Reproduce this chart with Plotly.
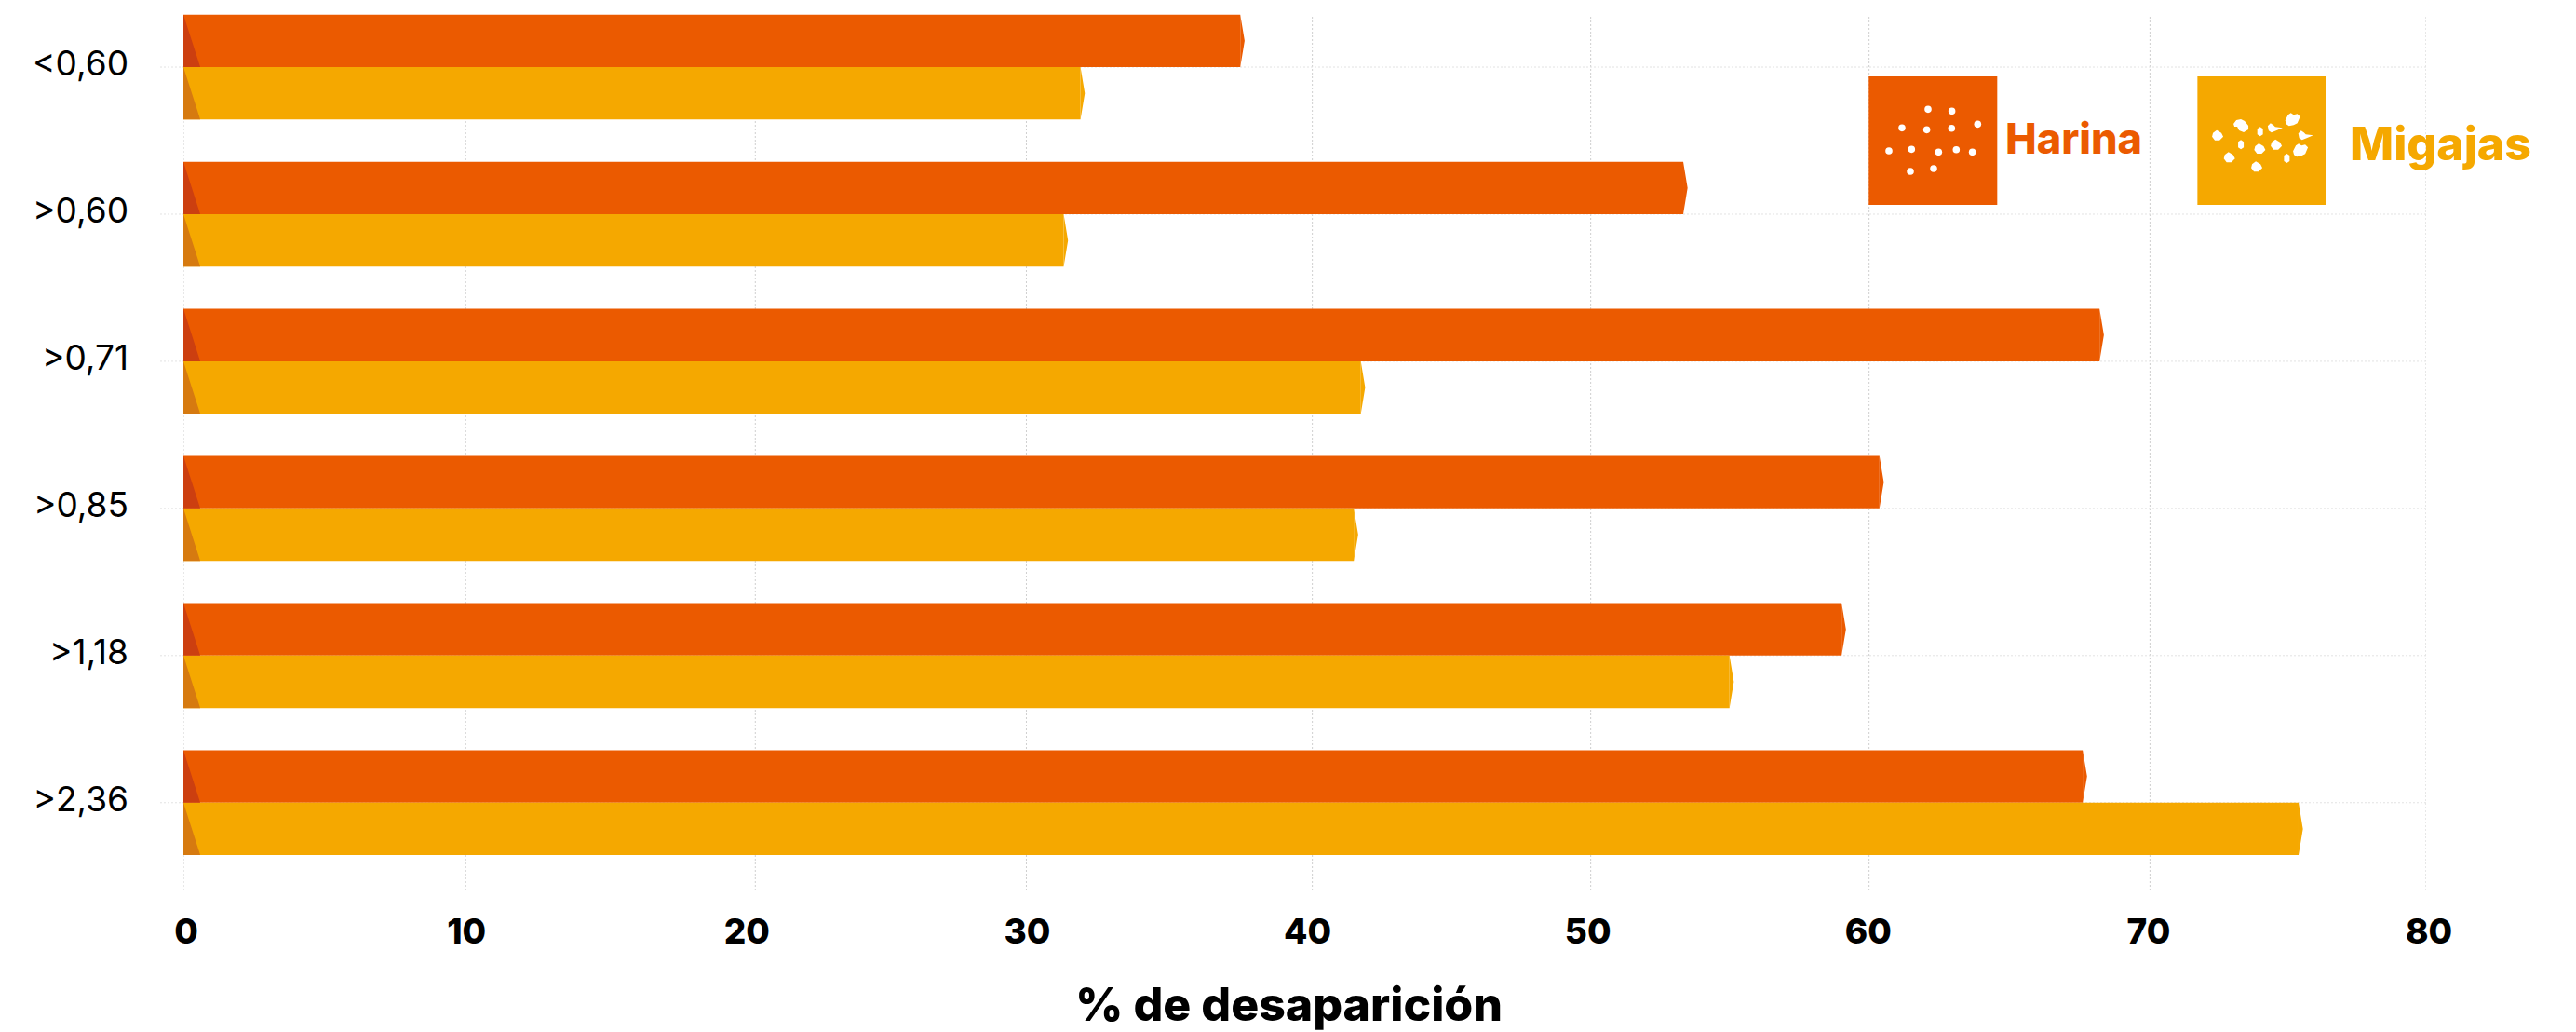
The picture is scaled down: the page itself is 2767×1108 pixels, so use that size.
import plotly.graph_objects as go

# Particle size classes (mm), top to bottom
categories = ["<0,60", ">0,60", ">0,71", ">0,85", ">1,18", ">2,36"]
# Disappearance percentage per size class
harina = [37.7, 53.5, 68.35, 60.5, 59.15, 67.75]
migajas = [32.0, 31.4, 42.0, 41.75, 55.15, 75.45]
x_ticks = [0, 10, 20, 30, 40, 50, 60, 70, 80]
x_grid = [0, 10.07, 20.4, 30.07, 40.27, 50.2, 60.13, 70.15, 80]

ORANGE, AMBER = "#EB5A00", "#F5A800"
ORANGE_DARK, AMBER_DARK = "#CC3F10", "#D67A10"
FONT = "Inter"

W, H = 2767, 1108
LEFT, RIGHT, TOP, BOTTOM = 197.0, 2605.6, 10.0, 955.7
GRID_TOP = 18.0
ROW0, ROW_STEP = 72.0, 157.9
BAR_H = 56.3 / ROW_STEP
TIP = 0.155     # arrow tip length, in axis units
WEDGE = 0.6     # shaded wedge at the base, in axis units
rows = list(range(len(categories)))


def px(x):
    return (x - LEFT) / (RIGHT - LEFT)


def py(y):
    return 1 - (y - TOP) / (BOTTOM - TOP)


def polygons(shapes_xy):
    xs, ys = [], []
    for pts in shapes_xy:
        xs += [p[0] for p in pts] + [pts[0][0], None]
        ys += [p[1] for p in pts] + [pts[0][1], None]
    return xs, ys


def add_series(fig, name, values, offset, color, dark):
    fig.add_trace(go.Bar(
        name=name, y=rows, x=values, orientation="h", width=BAR_H, offset=offset,
        marker=dict(color=color, line=dict(width=0)), showlegend=False,
    ))
    tips, wedges = [], []
    for r, v in zip(rows, values):
        top, bot = r + offset, r + offset + BAR_H
        tips.append([(v, top), (v + TIP, (top + bot) / 2), (v, bot)])
        wedges.append([(0, top), (WEDGE, bot), (0, bot)])
    for pts, fill in ((tips, color), (wedges, dark)):
        xs, ys = polygons(pts)
        fig.add_trace(go.Scatter(
            x=xs, y=ys, mode="lines", fill="toself", fillcolor=fill,
            line=dict(width=0), hoverinfo="skip", showlegend=False,
        ))


fig = go.Figure()
add_series(fig, "Harina", harina, -BAR_H, ORANGE, ORANGE_DARK)
add_series(fig, "Migajas", migajas, 0, AMBER, AMBER_DARK)

shapes = []
# Dotted grid, with the horizontal lines running out to short stubs on the left
for g in x_grid:
    shapes.append(dict(type="line", xref="x", yref="paper", x0=g, x1=g, y0=0, y1=py(GRID_TOP),
                       layer="below", line=dict(color="#cfcfcf", width=1, dash="2px,2px")))
for r in rows:
    shapes.append(dict(type="line", xref="paper", yref="y", x0=px(172), x1=1, y0=r, y1=r,
                       layer="below", line=dict(color="#e2e2e2", width=1, dash="2px,2px")))

# Legend swatches
shapes.append(dict(type="rect", xref="paper", yref="paper", x0=px(2007), x1=px(2145),
                   y0=py(220), y1=py(82), fillcolor=ORANGE, line=dict(width=0)))
shapes.append(dict(type="rect", xref="paper", yref="paper", x0=px(2360), x1=px(2498),
                   y0=py(220), y1=py(82), fillcolor=AMBER, line=dict(width=0)))

# Flour grains on the orange swatch
grains = [(2070.7, 117.3), (2096.3, 119.3), (2042.7, 137.3), (2069.3, 139.3), (2096, 137.7),
          (2124, 133.3), (2028.7, 162), (2053, 160.3), (2082, 163.3), (2101, 160.7),
          (2118.3, 163.3), (2051.7, 184), (2076.7, 181)]
for gx, gy in grains:
    shapes.append(dict(type="circle", xref="paper", yref="paper",
                       x0=px(gx - 3.8), x1=px(gx + 3.8), y0=py(gy + 3.8), y1=py(gy - 3.8),
                       fillcolor="white", line=dict(width=0)))

# Crumbs on the amber swatch: outlines as offsets from each crumb's centre
ROUND = [(-5, -3), (-1, -6), (4, -3), (6, 1), (2, 5), (-3, 5), (-6, 1)]
BIG = [(-8, -2), (-5, -6), (0, -7), (4, -5), (8, 0), (8, 4), (3, 7), (-2, 5), (-4, 1), (-7, 1)]
HEART = [(-7, 5), (-8, 1), (-5, -5), (-2, -7), (1, -5), (5, -6), (8, -3), (5, 4), (1, 6), (-4, 7)]
SMALL = [(-3, -3), (0, -5), (3, -3), (3, 3), (0, 5), (-3, 3)]
TAIL = [(-6, -2), (-3, -5), (0, -3), (2, -1), (10, 0), (3, 3), (-2, 5), (-5, 3)]
crumbs = [(2381.7, 145.7, ROUND), (2406.7, 135, BIG), (2427.3, 141.3, SMALL),
          (2441.5, 137.3, TAIL), (2462.3, 128.3, HEART), (2474.3, 145.3, TAIL),
          (2406.7, 155.3, SMALL), (2427, 160, ROUND), (2444.7, 155.7, ROUND),
          (2470.7, 161.3, HEART), (2394.3, 169.3, ROUND), (2456, 170, SMALL),
          (2423.7, 179.3, ROUND)]
for cx, cy, outline in crumbs:
    path = "M " + " L ".join(f"{px(cx + dx):.5f},{py(cy + dy):.5f}" for dx, dy in outline) + " Z"
    shapes.append(dict(type="path", xref="paper", yref="paper", path=path,
                       fillcolor="white", line=dict(color="white", width=0)))

annotations = [
    dict(text="Harina", x=px(2152), y=py(148), xref="paper", yref="paper", xanchor="left",
         yanchor="middle", showarrow=False, font=dict(family=FONT, size=45, color=ORANGE, weight=800)),
    dict(text="Migajas", x=px(2522), y=py(154), xref="paper", yref="paper", xanchor="left",
         yanchor="middle", showarrow=False, font=dict(family=FONT, size=50, color=AMBER, weight=800)),
    dict(text="% de desaparición", x=px(1384), y=py(1078), xref="paper", yref="paper",
         xanchor="center", yanchor="middle", showarrow=False,
         font=dict(family=FONT, size=50, color="#000000", weight=800)),
]

fig.update_layout(
    width=W, height=H, autosize=False, barmode="overlay",
    margin=dict(l=LEFT, r=W - RIGHT, t=TOP, b=H - BOTTOM, pad=0, autoexpand=False),
    paper_bgcolor="white", plot_bgcolor="white",
    showlegend=False, shapes=shapes, annotations=annotations,
    xaxis=dict(range=[0, 80], tickvals=x_ticks, ticktext=[str(t) for t in x_ticks],
               showgrid=False, zeroline=False, showline=False, ticks="",
               ticklabelstandoff=19, ticklabelshift=3,
               tickfont=dict(family=FONT, size=37, color="#000000", weight=800)),
    yaxis=dict(range=[(BOTTOM - ROW0) / ROW_STEP, (TOP - ROW0) / ROW_STEP],
               tickvals=rows, ticktext=categories,
               showgrid=False, zeroline=False, showline=False, ticks="",
               ticklabelstandoff=58, ticklabelshift=4,
               tickfont=dict(family=FONT, size=37, color="#000000")),
)

fig.write_html("out.html")
